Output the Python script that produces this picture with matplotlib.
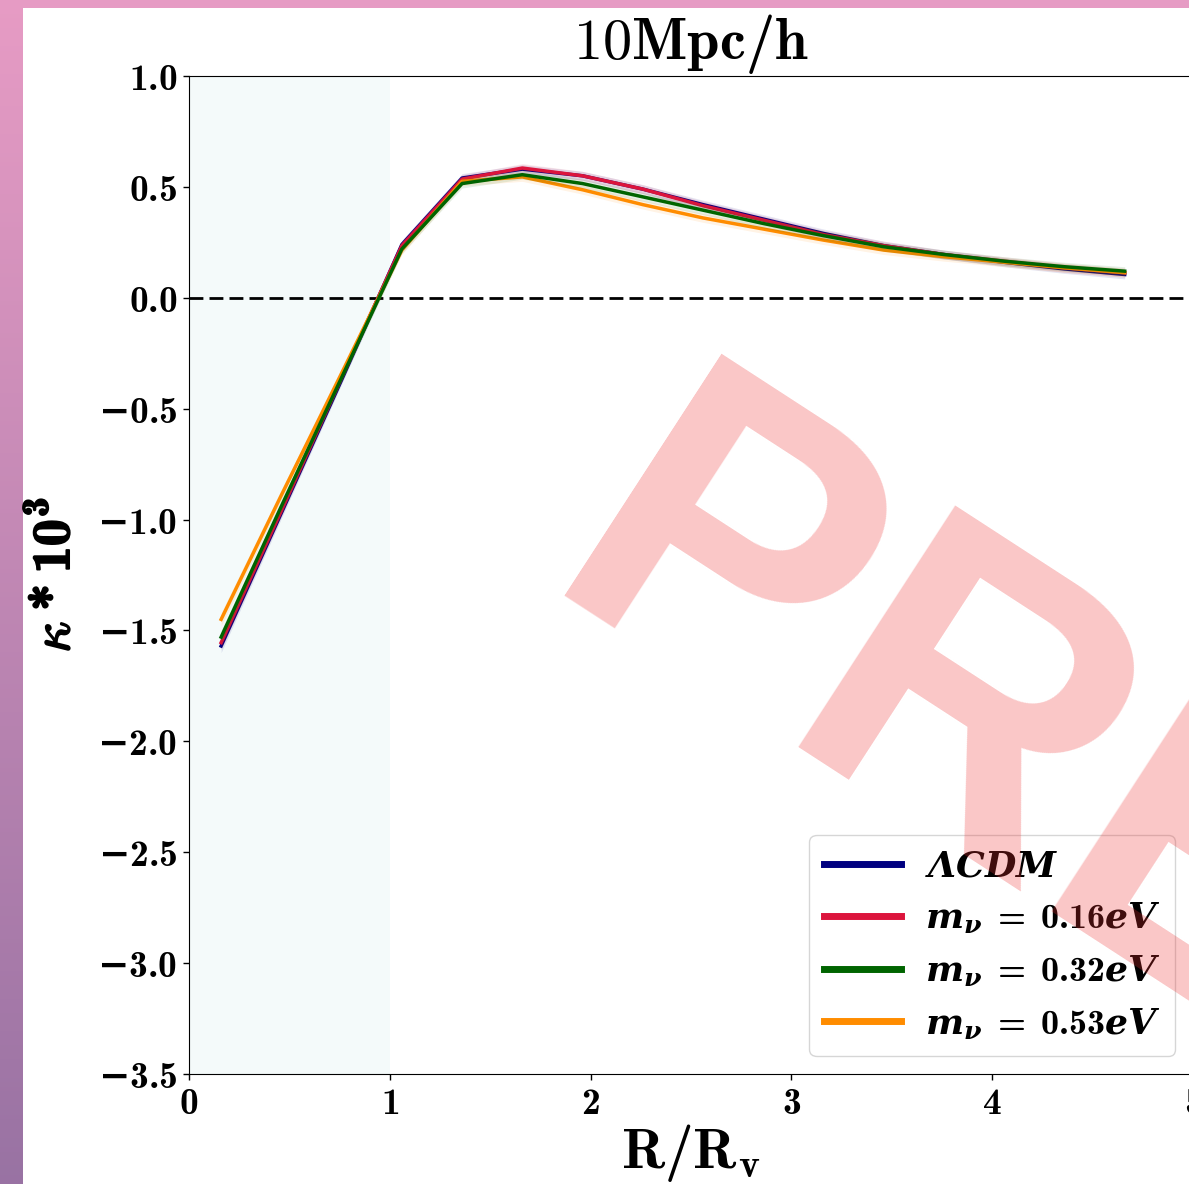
import numpy as np
import matplotlib
matplotlib.use('Agg')
import matplotlib.pyplot as plt
import matplotlib.patheffects as pe
from matplotlib.ticker import FuncFormatter
from matplotlib.patches import Rectangle

# Computer Modern for upright/bold maths, a bold italic serif for symbols
plt.rcParams['mathtext.fontset'] = 'custom'
plt.rcParams['mathtext.rm'] = 'cmr10'
plt.rcParams['mathtext.it'] = 'cmmi10'
plt.rcParams['mathtext.bf'] = 'cmb10'
plt.rcParams['mathtext.bfit'] = 'DejaVu Serif:italic:bold'
plt.rcParams['mathtext.fallback'] = 'cm'

# radial profile of the stacked convergence, R in units of the void radius
r_rv = [0.16, 0.46, 0.76, 1.06, 1.36, 1.66, 1.96, 2.26, 2.56, 2.86,
        3.16, 3.46, 3.76, 4.06, 4.36, 4.66]

kappa_lcdm = [-1.57, -0.97, -0.37, 0.24, 0.54, 0.58, 0.55, 0.49, 0.42, 0.355,
              0.29, 0.235, 0.195, 0.16, 0.13, 0.105]
kappa_016 = [-1.555, -0.96, -0.36, 0.235, 0.535, 0.585, 0.55, 0.49, 0.415, 0.35,
             0.285, 0.235, 0.195, 0.165, 0.135, 0.113]
kappa_032 = [-1.53, -0.94, -0.36, 0.22, 0.515, 0.555, 0.515, 0.455, 0.395, 0.335,
             0.28, 0.23, 0.195, 0.165, 0.14, 0.12]
kappa_053 = [-1.45, -0.89, -0.34, 0.215, 0.525, 0.545, 0.487, 0.42, 0.36, 0.31,
             0.26, 0.215, 0.185, 0.16, 0.135, 0.113]
kappa_err = [0.03, 0.025, 0.02, 0.02, 0.02, 0.02, 0.02, 0.02, 0.02, 0.02,
             0.02, 0.02, 0.02, 0.02, 0.02, 0.02]

labels = [r'$\mathbfit{\Lambda CDM}$',
          r'$\mathbfit{m_\nu}\;\mathbf{=}\;\mathbf{0.16}\mathbfit{eV}$',
          r'$\mathbfit{m_\nu}\;\mathbf{=}\;\mathbf{0.32}\mathbfit{eV}$',
          r'$\mathbfit{m_\nu}\;\mathbf{=}\;\mathbf{0.53}\mathbfit{eV}$']
colors = ['navy', 'crimson', 'darkgreen', 'darkorange']
series = [kappa_lcdm, kappa_016, kappa_032, kappa_053]
zorders = [3, 4, 6, 5]

yticks = [-3.5, -3.0, -2.5, -2.0, -1.5, -1.0, -0.5, 0.0, 0.5, 1.0]
xticks = [0, 1, 2, 3, 4, 5]


def bold_tick(v, pos, fmt):
    s = r'\mathbf{%s}' % (fmt % abs(v))
    if v < 0:
        s = r'\mathbfit{-}' + s
    return '$' + s + '$'


W, H = 1189, 1184
fig = plt.figure(figsize=(W / 100, H / 100), dpi=100)

# pink frame behind the plot
bg = fig.add_axes([0, 0, 1, 1], zorder=-10)
grad = np.linspace(0, 1, 256)[:, None]
top = np.array([0.905, 0.61, 0.77])
bot = np.array([0.60, 0.45, 0.64])
img = top[None, None, :] * (1 - grad[..., None]) + bot[None, None, :] * grad[..., None]
bg.imshow(img, aspect='auto', extent=[0, 1, 0, 1])
bg.add_patch(Rectangle((23 / W, 0), 1, 1 - 8 / H, color='white', lw=0))
bg.set_xlim(0, 1)
bg.set_ylim(0, 1)
bg.axis('off')

ax = fig.add_axes([189 / W, 1 - 1074 / H, (1193 - 189) / W, (1074 - 76) / H])

ax.axvspan(0, 1, color='#f4fafa', zorder=0, lw=0)
ax.axhline(0, color='k', ls=(0, (5, 2.2)), lw=2, zorder=2)

x = np.array(r_rv)
err = np.array(kappa_err)
for y, c, lab, z in zip(series, colors, labels, zorders):
    y = np.array(y)
    ax.fill_between(x, y - err, y + err, color=c, alpha=0.1, lw=0, zorder=z - 0.5)
    ax.plot(x, y, color=c, lw=2.5, label=lab, zorder=z)

ax.set_xlim(0, 5)
ax.set_ylim(-3.5, 1.0)
ax.set_xticks(xticks)
ax.set_yticks(yticks)
ax.xaxis.set_major_formatter(FuncFormatter(lambda v, p: bold_tick(v, p, '%d')))
ax.yaxis.set_major_formatter(FuncFormatter(lambda v, p: bold_tick(v, p, '%.1f')))
ax.tick_params(labelsize=27, length=4.5, width=1, pad=4)

ax.set_title(r'$10\mathbf{Mpc/h}$', fontsize=42, pad=7)
ax.set_xlabel(r'$\mathbf{R/R_v}$', fontsize=41, labelpad=0)
ylab = ax.set_ylabel(r'$\kappa\:\mathbf{*}\:\mathbf{10^3}$', fontsize=39)
ylab.set_path_effects([pe.withStroke(linewidth=1.3, foreground='k')])
ax.yaxis.set_label_coords(-0.108, 0.5)

leg = ax.legend(loc='lower right', fontsize=26, labelspacing=0.48, handlelength=2.15,
                handletextpad=0.65)
for line in leg.get_lines():
    line.set_linewidth(5)

fig.text(536 / W, 1 - 595 / H, 'PRELIMINARY', rotation=-33, rotation_mode='anchor',
         ha='left', va='baseline', fontsize=301, fontweight='bold',
         family='Liberation Sans', color=(0.93, 0.2, 0.2), alpha=0.28, zorder=10)

fig.savefig('out.png', dpi=100)
